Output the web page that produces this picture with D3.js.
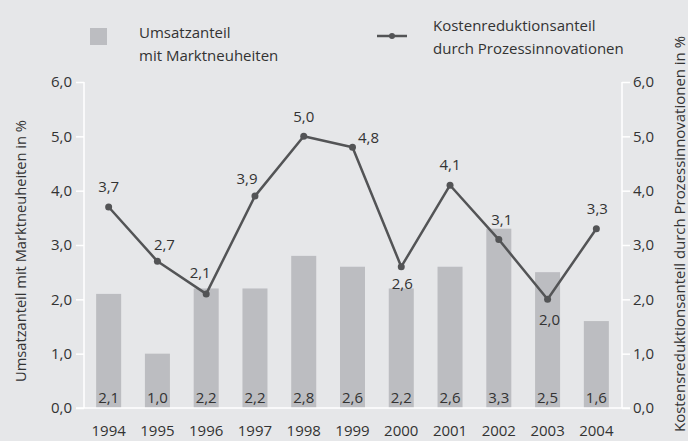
<!DOCTYPE html>
<html>
<head>
<meta charset="utf-8">
<script src="https://cdn.jsdelivr.net/npm/d3@7"></script>
<style>
  body { margin: 0; background: #e6e7e9; }
  svg { display: block; font-family: "Open Sans", sans-serif; font-size: 15px; }
  text { fill: #333; }
</style>
</head>
<body>
<div id="chart"></div>
<script>
// Daten
const years = ["1994", "1995", "1996", "1997", "1998", "1999", "2000", "2001", "2002", "2003", "2004"];
const umsatzanteil = [2.1, 1.0, 2.2, 2.2, 2.8, 2.6, 2.2, 2.6, 3.3, 2.5, 1.6];
const kostenreduktion = [3.7, 2.7, 2.1, 3.9, 5.0, 4.8, 2.6, 4.1, 3.1, 2.0, 3.3];
const yTicks = [0, 1, 2, 3, 4, 5, 6];

const fmt = (v) => d3.format(".1f")(v).replace(".", ",");

const width = 688, height = 441;
const svg = d3.select("#chart").append("svg")
  .attr("width", width)
  .attr("height", height);

svg.append("rect").attr("width", width).attr("height", height).attr("fill", "#e6e7e9");

const pLeft = 84, pRight = 622, pTop = 82, pBottom = 408;

const x = d3.scaleBand().domain(years).range([pLeft, pRight - 1])
  .paddingInner(0.487).paddingOuter(0.249);
const y = d3.scaleLinear().domain([0, 6]).range([pBottom, pTop]);

// Balken
svg.selectAll(".bar")
  .data(umsatzanteil)
  .enter()
  .append("rect")
  .attr("class", "bar")
  .attr("x", (d, i) => x(years[i]))
  .attr("width", x.bandwidth())
  .attr("y", (d) => y(d))
  .attr("height", (d) => y(0) - y(d))
  .attr("fill", "#bcbdc1");

// Balkenbeschriftung unten im Balken
svg.selectAll(".barlabel")
  .data(umsatzanteil)
  .enter()
  .append("text")
  .attr("x", (d, i) => x(years[i]) + x.bandwidth() / 2)
  .attr("y", y(0) - 5)
  .attr("text-anchor", "middle")
  .text((d) => fmt(d));

// Achsen (weiss)
const axisLeft = svg.append("g")
  .attr("transform", `translate(${pLeft},0)`)
  .call(d3.axisLeft(y).tickValues(yTicks).tickFormat(fmt).tickSize(8).tickPadding(4));
const axisRight = svg.append("g")
  .attr("transform", `translate(${pRight},0)`)
  .call(d3.axisRight(y).tickValues(yTicks).tickFormat(fmt).tickSize(8).tickPadding(3));

[axisLeft, axisRight].forEach((a) => {
  a.select(".domain").attr("stroke", "#fff").attr("stroke-width", 1.5).attr("d", `M0,${pTop}V${pBottom}`);
  a.selectAll(".tick line").attr("stroke", "#fff").attr("stroke-width", 1.5);
  a.selectAll(".tick text").style("font-size", "15px").attr("fill", "#333").style("font-family", "Open Sans");
});

// Grundlinie
svg.append("line")
  .attr("x1", pLeft - 8).attr("x2", pRight + 8)
  .attr("y1", y(0)).attr("y2", y(0))
  .attr("stroke", "#fff").attr("stroke-width", 1.5);

// Jahre
svg.selectAll(".year")
  .data(years)
  .enter()
  .append("text")
  .attr("x", (d) => x(d) + x.bandwidth() / 2)
  .attr("y", 436)
  .attr("text-anchor", "middle")
  .text((d) => d);

// Linie
const cx = (i) => x(years[i]) + x.bandwidth() / 2;
const line = d3.line().x((d, i) => cx(i)).y((d) => y(d));

svg.append("path")
  .datum(kostenreduktion)
  .attr("d", line)
  .attr("fill", "none")
  .attr("stroke", "#535456")
  .attr("stroke-width", 2.5)
  .attr("stroke-linejoin", "round");

svg.selectAll(".dot")
  .data(kostenreduktion)
  .enter()
  .append("circle")
  .attr("cx", (d, i) => cx(i))
  .attr("cy", (d) => y(d))
  .attr("r", 3.5)
  .attr("fill", "#535456");

// Beschriftung der Linienpunkte (Verschiebung je Punkt)
const off = {
  1994: [0, -15], 1995: [7, -11], 1996: [-6, -16], 1997: [-8, -12],
  1998: [0, -14], 1999: [16, -4], 2000: [1, 22], 2001: [0, -15],
  2002: [3, -15], 2003: [2, 26], 2004: [1, -15]
};
svg.selectAll(".linelabel")
  .data(kostenreduktion)
  .enter()
  .append("text")
  .attr("x", (d, i) => cx(i) + off[years[i]][0])
  .attr("y", (d, i) => y(d) + off[years[i]][1])
  .attr("text-anchor", "middle")
  .text((d) => fmt(d));

// Achsentitel
svg.append("text")
  .attr("transform", `translate(26,251) rotate(-90)`)
  .attr("text-anchor", "middle")
  .style("font-size", "14px")
  .attr("textLength", 262)
  .attr("lengthAdjust", "spacingAndGlyphs")
  .text("Umsatzanteil mit Marktneuheiten in %");

svg.append("text")
  .attr("transform", `translate(685,234) rotate(-90)`)
  .attr("text-anchor", "middle")
  .style("font-size", "14px")
  .attr("textLength", 396)
  .attr("lengthAdjust", "spacingAndGlyphs")
  .text("Kostensreduktionsanteil durch Prozessinnovationen in %");

// Legende
svg.append("rect")
  .attr("x", 90).attr("y", 28).attr("width", 17).attr("height", 17)
  .attr("fill", "#bcbdc1");
svg.append("text").attr("x", 139).attr("y", 38).text("Umsatzanteil");
svg.append("text").attr("x", 139).attr("y", 61).text("mit Marktneuheiten");

svg.append("line")
  .attr("x1", 377).attr("x2", 407).attr("y1", 36).attr("y2", 36)
  .attr("stroke", "#535456").attr("stroke-width", 2.5);
svg.append("circle").attr("cx", 392).attr("cy", 36).attr("r", 3).attr("fill", "#535456");
svg.append("text").attr("x", 433).attr("y", 31).text("Kostenreduktionsanteil");
svg.append("text").attr("x", 433).attr("y", 54).text("durch Prozessinnovationen");
</script>
</body>
</html>
